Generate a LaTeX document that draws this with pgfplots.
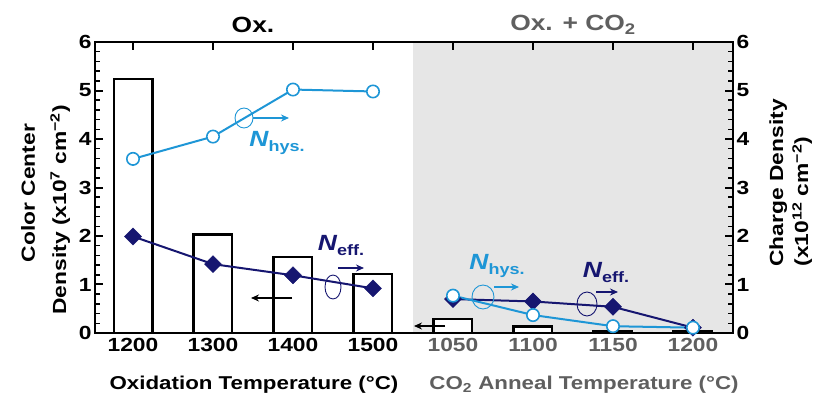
\documentclass[border=0pt]{standalone}
\usepackage{pgfplots}
\pgfplotsset{compat=1.18}
\usepackage{fontspec}
\setmainfont[FakeStretch=1.2]{Liberation Sans}
\usetikzlibrary{arrows.meta}
\definecolor{lblue}{RGB}{30,150,214}
\definecolor{navy}{RGB}{22,22,112}
\definecolor{bggray}{RGB}{230,230,230}
\definecolor{txtgray}{RGB}{95,95,95}
\newcommand{\fs}[1]{\fontsize{#1}{#1}\selectfont\bfseries}
\newcommand{\lab}[1]{{\fs{22}\itshape N}\raisebox{-5pt}{\fs{15}#1}}
\begin{document}
\begin{tikzpicture}
\useasboundingbox (0pt,0pt) rectangle (820pt,399pt);
\begin{axis}[
  at={(95pt,66pt)}, anchor=south west,
  width=638pt, height=291pt, scale only axis,
  xmin=-0.475, xmax=7.5, ymin=0, ymax=6,
  axis on top, clip=false,
  axis line style={line width=2.6pt},
  xtick={0,1,2,3,4,5,6,7},
  xticklabels={1200,1300,1400,1500,
    \textcolor{txtgray}{1050},\textcolor{txtgray}{1100},\textcolor{txtgray}{1150},\textcolor{txtgray}{1200}},
  xtick pos=right, xticklabel pos=left,
  ytick={0,1,2,3,4,5,6}, ytick pos=left,
  minor y tick num=4,
  tick align=inside,
  major tick length=8pt, minor tick length=5pt,
  every tick/.style={line width=2pt},
  minor tick style={line width=1.5pt},
  /pgf/number format/assume math mode=true,
  ticklabel style={font=\fs{19}},
  xticklabel style={yshift=-2pt},
]
\fill[bggray] (axis cs:3.5,0) rectangle (axis cs:7.5,6);
\addplot[ybar, bar width=0.48, fill=white, draw=black, line width=2.6pt]
  coordinates {(0,5.24) (1,2.03) (2,1.57) (3,1.22) (4,0.29) (5,0.14) (6,0.04) (7,0.03)};
% N_eff
\addplot[navy, line width=2pt, mark=square*, mark size=6pt, mark options={fill=navy, line width=0.5pt, rotate=45}]
  coordinates {(0,1.99) (1,1.42) (2,1.19) (3,0.92)};
\addplot[navy, line width=2pt, mark=square*, mark size=6pt, mark options={fill=navy, line width=0.5pt, rotate=45}]
  coordinates {(4,0.70) (5,0.65) (6,0.54) (7,0.11)};
% N_hys
\addplot[lblue, line width=2pt, mark=*, mark size=6.2pt, mark options={fill=white, draw=lblue, line width=1.6pt}]
  coordinates {(0,3.59) (1,4.05) (2,5.02) (3,4.98)};
\addplot[lblue, line width=2pt, mark=*, mark size=6.2pt, mark options={fill=white, draw=lblue, line width=1.6pt}]
  coordinates {(4,0.77) (5,0.37) (6,0.14) (7,0.11)};
\end{axis}
\begin{axis}[
  at={(95pt,66pt)}, anchor=south west,
  width=638pt, height=291pt, scale only axis,
  xmin=-0.475, xmax=7.5, ymin=0, ymax=6,
  axis x line=none, axis y line*=right,
  axis line style={line width=2.6pt, -},
  ytick={0,1,2,3,4,5,6},
  minor y tick num=4,
  tick align=inside,
  major tick length=8pt, minor tick length=5pt,
  every tick/.style={line width=2pt},
  minor tick style={line width=1.5pt},
  /pgf/number format/assume math mode=true,
  ticklabel style={font=\fs{19}},
]
\end{axis}
% titles
\node[font=\fs{22}] at (253pt,374pt) {Ox.};
\node[font=\fs{22}, text=txtgray] at (573pt,374pt) {Ox. + CO\textsubscript{2}};
% x labels
\node[font=\fs{18.6}] at (254pt,14pt) {Oxidation Temperature (°C)};
\node[font=\fs{18.6}, text=txtgray] at (584pt,14pt) {CO\textsubscript{2} Anneal Temperature (°C)};
% y labels
\node[font=\fs{19}, rotate=90, anchor=base] at (35pt,206pt) {Color Center};
\node[font=\fs{19}, rotate=90, anchor=base west] at (66pt,81pt) {Density (x10\textsuperscript{7} cm\textsuperscript{−2})};
\node[font=\fs{19}, rotate=90, anchor=base west] at (783pt,129pt) {Charge Density};
\node[font=\fs{19}, rotate=90, anchor=base west] at (808pt,129pt) {(x10\textsuperscript{12} cm\textsuperscript{−2})};
% annotations
\node[text=lblue] at (277pt,256pt) {\lab{hys.}};
\draw[lblue, line width=0.9pt] (244pt,281pt) ellipse (9pt and 10pt);
\draw[lblue, line width=1.2pt, -{Stealth[length=8pt,width=7pt]}] (253pt,281pt) -- (289pt,281pt);
\node[text=navy] at (341pt,153pt) {\lab{eff.}};
\draw[navy, line width=0.9pt] (333pt,112pt) ellipse (8pt and 12pt);
\draw[navy, line width=1.2pt, -{Stealth[length=8pt,width=7pt]}] (338pt,131pt) -- (364pt,131pt);
\draw[black, line width=1.2pt, -{Stealth[length=8pt,width=7pt]}] (292pt,101pt) -- (251pt,101pt);
\node[text=lblue] at (497pt,133pt) {\lab{hys.}};
\draw[lblue, line width=0.9pt] (483pt,102pt) ellipse (11pt and 12pt);
\draw[lblue, line width=1.2pt, -{Stealth[length=8pt,width=7pt]}] (494pt,112pt) -- (519pt,112pt);
\node[text=navy] at (606pt,126pt) {\lab{eff.}};
\draw[navy, line width=0.9pt] (587pt,95pt) ellipse (10pt and 12pt);
\draw[navy, line width=1.2pt, -{Stealth[length=8pt,width=7pt]}] (596pt,107pt) -- (618pt,107pt);
\draw[black, line width=1.2pt, -{Stealth[length=8pt,width=7pt]}] (445pt,73pt) -- (414pt,73pt);
\end{tikzpicture}
\end{document}
